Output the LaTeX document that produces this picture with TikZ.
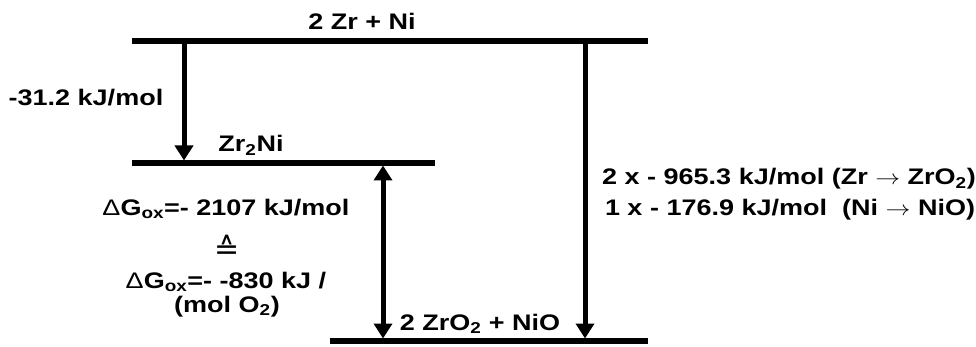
\documentclass[tikz,border=0pt]{standalone}
\usepackage{fontspec}
\usepackage{graphicx}
\setmainfont{Liberation Sans}
\newfontfamily\dejavu{DejaVu Sans}
\usetikzlibrary{arrows.meta}
\newcommand{\sx}[1]{\scalebox{1.2}[1]{#1}}
\newcommand{\dG}{{\mdseries Δ}G\textsubscript{ox}}
\begin{document}
\begin{tikzpicture}[x=1pt,y=-1pt,
  level/.style={line width=5.5pt},
  arr/.style={line width=5pt,-{Triangle[length=15pt,width=18pt]}},
  darr/.style={line width=5pt,{Triangle[length=15pt,width=18pt]}-{Triangle[length=15pt,width=18pt]}},
  lbl/.style={font=\fontsize{22.5}{30}\selectfont\bfseries, inner sep=0pt, anchor=base}]
\useasboundingbox (0,0) rectangle (976,347);
% levels
\coordinate (topL) at (132,41);  \coordinate (topR) at (648,41);
\coordinate (midL) at (132,163); \coordinate (midR) at (435,163);
\coordinate (botL) at (330,341); \coordinate (botR) at (648,341);
\draw[level] (topL) -- (topR);
\draw[level] (midL) -- (midR);
\draw[level] (botL) -- (botR);
% arrow endpoints
\coordinate (a1s) at (184,43.5);  \coordinate (a1e) at (184,160.5);
\coordinate (a2s) at (383,165.5); \coordinate (a2e) at (383,338.5);
\coordinate (a3s) at (585,43.5);  \coordinate (a3e) at (585,338.5);
\draw[arr] (a1s) -- (a1e);
\draw[darr] (a2s) -- (a2e);
\draw[arr] (a3s) -- (a3e);
% labels
\node[lbl] (ltop) at (362,30) {\sx{2 Zr + Ni}};
\node[lbl] (lde1) at (86,106) {\sx{-31.2 kJ/mol}};
\node[lbl] (lmid) at (251,152) {\sx{Zr\textsubscript{2}Ni}};
\node[lbl] (lg1) at (226,215) {\sx{\dG=- 2107 kJ/mol}};
\node[font=\fontsize{30}{32}\selectfont\dejavu, inner sep=0pt] (lcorr) at (227,247) {≙};
\node[lbl] (lg2) at (226,288) {\sx{\dG=- -830 kJ /}};
\node[lbl] (lg3) at (227,312) {\sx{(mol O\textsubscript{2})}};
\node[lbl] (lbot) at (480,330) {\sx{2 ZrO\textsubscript{2} + NiO}};
\node[lbl] (lr1) at (789,185) {\sx{2 x - 965.3 kJ/mol (Zr $\rightarrow$ ZrO\textsubscript{2})}};
\node[lbl] (lr2) at (790,215) {\sx{1 x - 176.9 kJ/mol\ \ (Ni $\rightarrow$ NiO)}};
\end{tikzpicture}
\end{document}
